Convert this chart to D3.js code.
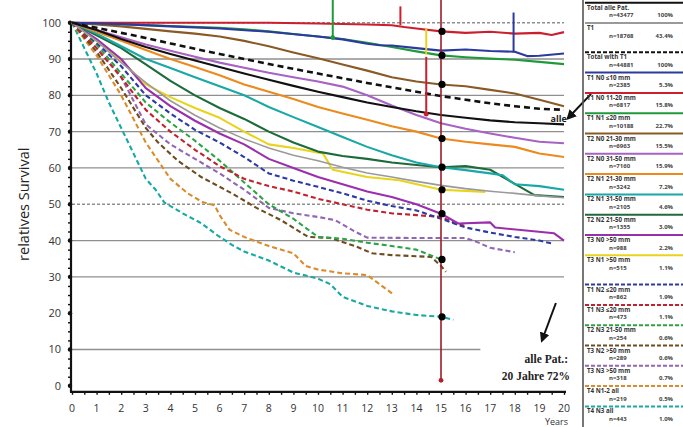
<!DOCTYPE html>
<html>
<head>
<meta charset="utf-8">
<script src="https://cdn.jsdelivr.net/npm/d3@7"></script>
<style>
  html, body { margin: 0; padding: 0; background: #fff; }
  svg { display: block; font-family: "Open Sans", "DejaVu Sans", sans-serif; }
</style>
</head>
<body>
<svg id="chart" width="683" height="427"></svg>
<script>
// relative survival curves, [year, %]
const alle = [[0,100],[1,98],[2,95.5],[3,93.3],[4,91.4],[5,89.6],[6,87.8],[7,86],[8,84.3],[9,82.6],[10,81],[11,79.5],[12,78],[13,76.8],[14,75.6],[15,74.6],[16,73.8],[17,73.1],[18,72.6],[19,72.3],[20,72]];
const t1 = [[0,100],[1,95],[2,89],[3,83.5],[4,78.5],[5,74.5],[6,71],[7,68],[8,65.5],[9,63.5],[10,62],[11,60.2],[12,58.6],[13,57.5],[14,56.3],[15,55.2],[16,54.3],[17,53.6],[18,53],[19,52.3],[20,51.8]];
const totalT1 = [[0,100],[1,98.6],[2,97.2],[3,95.8],[4,94.3],[5,92.8],[6,91.4],[7,90],[8,88.6],[9,87.3],[10,86],[11,84.7],[12,83.4],[13,82.2],[14,81],[15,79.8],[16,78.8],[17,77.8],[18,77],[19,76.3],[20,76]];
const blueSolid = [[0,100],[2,99.6],[4,99],[6,98.4],[8,97.5],[10,96.2],[11,95.4],[12,94.2],[12.5,93.8],[13,93.7],[14,93],[15,92.3],[16,92.6],[17,92.2],[18,92],[18.5,90.8],[19,90.9],[20,91.5]];
const redSolid = [[0,100],[4,100],[8,100],[10,99.8],[12,99.5],[13,99.3],[13.5,98.8],[14,98.4],[15,97.6],[16,97.2],[17,97.5],[18,97],[19,97.2],[19.5,96.6],[20,97.4]];
const greenSolid = [[0,100],[2,99.6],[4,99.1],[6,98.6],[7,98.2],[8,97.6],[9,96.9],[10,96.2],[11,95.5],[12,94.5],[13,93.3],[14,92.1],[15,91],[16,90.5],[17,90.1],[18,89.8],[19,89.2],[20,88.6]];
const brownSolid = [[0,100],[1,99.5],[2,99],[3,98.3],[4,97.6],[5,97],[6,96.2],[7,95],[8,93.5],[9,91.8],[10,90.2],[11,88.5],[12,86.8],[13,85],[14,83.8],[15,83],[16,82.5],[17,81.5],[18,80.5],[19,78.8],[20,77]];
const purpleUpper = [[0,100],[1,98],[2,96],[3,94],[4,92.3],[5,90.6],[6,89],[7,87.6],[8,86.2],[9,85],[10,83.8],[11,82.4],[12,80],[13,77.2],[14,74.6],[15,72.3],[16,70.8],[17,69.5],[18,68.3],[19,67.2],[20,66.8]];
const orangeSolid = [[0,100],[1,97.5],[2,95],[3,92.5],[4,90],[5,87.8],[6,85.5],[7,83],[8,81],[9,79],[10,76.8],[11,75],[12,73.3],[13,71.5],[14,70],[15,68.1],[16,67.2],[17,66.5],[18,65.8],[19,64],[20,63]];
const tealSolid = [[0,100],[1,97],[2,93.5],[3,90],[4,87.5],[5,85],[6,82.5],[7,80],[8,76.8],[9,74],[10,71.3],[11,68.5],[12,65.8],[13,63.5],[14,61.5],[15,60.2],[16,59.4],[17,58.5],[17.5,58],[18,55.5],[19,55],[20,54]];
const darkGreen = [[0,100],[1,96.5],[2,93],[3,88.5],[4,84],[5,80],[6,76.5],[7,73.5],[8,70],[9,67],[10,64.5],[11,63.3],[12,62.5],[13,61.5],[14,60.8],[15,60.2],[16,60.5],[17,59.5],[18,55.6],[18.8,52.5],[20,52]];
const purpleLower = [[0,100],[1,95.5],[2,90],[3,82],[4,77],[5,73],[6,69.5],[7,66.5],[8,62.5],[9,60],[10,57.5],[11,55.5],[12,53.5],[13,52],[14,50],[15,47.4],[15.7,44.7],[17,45],[17.2,43.6],[19.6,42],[20,40]];
const yellowSolid = [[0,100],[1,95],[2,89.5],[3,83],[4,79.5],[5,76.5],[6,73.8],[7,70],[8,66.5],[9,65.5],[10.2,64],[10.6,59.5],[12,57.5],[13.3,56.6],[15,54],[16.8,53.4]];
const blueDashed = [[0,100],[1,94.5],[2,88],[3,80],[4,75],[5,70.5],[6,67],[7,63],[8,58.5],[9,56.5],[10,54.8],[11,53],[12,51],[13,49.5],[14,48.3],[15,46],[16,43.6],[17,42.2],[18,41],[19,40],[19.5,39.2]];
const redDashed = [[0,100],[1,93],[2,85],[3,76],[4,70],[5,65],[6,60.5],[7,57],[8,55],[9,53.5],[10,51.5],[11,50],[12,48.5],[13,47.5],[14,47],[15,46.5],[15.5,45],[16,44]];
const greenDashed = [[0,100],[1,94],[2,86],[3,78],[4,72.5],[5,67.5],[6,62],[7,56],[8,50],[9,46],[10,41],[11,40.5],[12,39.4],[13,38.5],[14,37.5],[15,34.8]];
const brownDashed = [[0,100],[1,92],[2,82],[3,71],[3.5,67],[4.3,62],[5.25,57.5],[6.5,53],[7.5,49],[8.5,45.6],[9.6,41],[10.5,40.7],[11.5,38.5],[12.2,36.5],[13,36],[14.6,35.5],[15,33],[15.2,31.4]];
const purpleDashed = [[0,100],[1,93],[2,85],[3,72],[4,66.5],[5,62.5],[6,58.5],[7,54],[8,49],[9,47.5],[10,46.5],[10.7,45.6],[11.5,42.5],[12,40.8],[14,40.7],[16,40.7],[16.5,39.5],[17,38],[18,36.8]];
const orangeDashed = [[0,100],[1,91],[2,80],[3,67],[3.5,62],[4,57],[4.7,53],[5.3,50.6],[5.8,49.7],[6,47],[6.4,43],[7,41],[8,38.5],[9,36.5],[9.5,33],[10,32],[11,31],[12,30.5],[12.5,28],[13.1,25]];
const tealDashed = [[0,100],[0.5,93],[1,86],[1.5,78],[2,71],[2.5,64],[3,57],[3.4,54],[3.75,50.5],[4.5,47.5],[5.25,44.8],[5.9,41.5],[6.5,38.8],[7,37],[8,34.5],[9,31.2],[10,29.5],[10.5,28],[11,24.5],[12,22],[13,20.5],[14,19.5],[15,19],[15.5,18.2]];

// legend entries (same order as the curves below)
const legendLabels = ["Total alle Pat.","T1","Total with T1","T1 N0 \u226410 mm","T1 N0 11-20 mm","T1 N1 \u226420 mm","T2 N0 21-30 mm","T2 N0 31-50 mm","T2 N1 21-30 mm","T2 N1 31-50 mm","T2 N2 21-50 mm","T3 N0 >50 mm","T3 N1 >50 mm","T1 N2 \u226420 mm","T1 N3 \u226420 mm","T2 N3 21-50 mm","T3 N2 >50 mm","T3 N3 >50 mm","T4 N1-2 all","T4 N3 all"];
const legendN = ["n=43477","n=18768","n=44881","n=2385","n=6817","n=10188","n=6963","n=7160","n=3242","n=2105","n=1355","n=988","n=515","n=862","n=473","n=254","n=289","n=318","n=219","n=443"];
const legendPct = ["100%","43.4%","100%","5.3%","15.8%","22.7%","15.5%","15.9%","7.2%","4.6%","3.0%","2.2%","1.1%","1.9%","1.1%","0.6%","0.6%","0.7%","0.5%","1.0%"];

const curves = [alle, t1, totalT1, blueSolid, redSolid, greenSolid, brownSolid, purpleUpper, orangeSolid, tealSolid, darkGreen, purpleLower, yellowSolid, blueDashed, redDashed, greenDashed, brownDashed, purpleDashed, orangeDashed, tealDashed];
const colors = ["#111","#9a9a9a","#111","#2b3a9e","#cc1f2e","#1f9a3a","#8a5a26","#a862c4","#ec8a1e","#18a8a6","#1d6a3a","#9a2fae","#e8d41c","#2b3aa6","#c1222e","#2aa444","#6e4c20","#9266b4","#da8c2c","#18a9a2"];
const dashedFrom = 13; // entries 13.. are dashed, 2 is dashed too

const xTicks = d3.range(0, 21);
const yTicks = d3.range(0, 101, 10);
const gridSolid = [90, 80, 70, 60, 40, 30];
const gridDotted = [100, 50];
const gridShort = [10];

// year-15 markers sit on these curves
const dotCurves = [redSolid, greenSolid, brownSolid, orangeSolid, darkGreen, yellowSolid, purpleLower, greenDashed, tealDashed];
const markYear = 15;

// pointer marks on the upper curves: [year, from %, to %]
const pointers = [
  {year: 10.6, from: 106.5, to: 95.9, color: "#1f9a3a", dot: true},
  {year: 13.35, from: 104.5, to: 99.3, color: "#cc1f2e", dot: false},
  {year: 17.95, from: 102.8, to: 91.8, color: "#2b3a9e", dot: false},
  {year: 14.4, from: 98.3, to: 91.2, color: "#e8d41c", dot: false},
  {year: 14.4, from: 90.6, to: 74.8, color: "#cc1f2e", dot: true}
];

const svg = d3.select("#chart");
const x = d3.scaleLinear().domain([0, 20]).range([72, 564]);
const y = d3.scaleLinear().domain([0, 100]).range([385.8, 22.7]);

// grid
svg.append("g").selectAll("line").data(gridSolid).join("line")
  .attr("x1", x(0)).attr("x2", x(20))
  .attr("y1", d => y(d)).attr("y2", d => y(d))
  .attr("stroke", "#8f8f8f").attr("stroke-width", 1.3);
svg.append("g").selectAll("line").data(gridDotted).join("line")
  .attr("x1", x(0)).attr("x2", x(20))
  .attr("y1", d => y(d)).attr("y2", d => y(d))
  .attr("stroke", "#8f8f8f").attr("stroke-width", 1.6)
  .attr("stroke-dasharray", "3,2");
svg.append("g").selectAll("line").data(gridShort).join("line")
  .attr("x1", x(0)).attr("x2", x(16.6))
  .attr("y1", d => y(d)).attr("y2", d => y(d))
  .attr("stroke", "#8f8f8f").attr("stroke-width", 1.3);

// axes
const yAxis = svg.append("g").attr("transform", `translate(${x(0) - 1},0)`);
yAxis.call(d3.axisLeft(y).tickValues(d3.range(0, 101, 2.5)).tickSize(3).tickFormat(""));
yAxis.call(g => g.select(".domain").remove());
yAxis.selectAll(".tick line").attr("stroke", "#111").attr("stroke-width", 1.4);
svg.append("line").attr("x1", x(0) - 1).attr("x2", x(0) - 1)
  .attr("y1", y(100)).attr("y2", y(0) + 6).attr("stroke", "#111").attr("stroke-width", 2.2);
svg.append("g").selectAll("circle").data(yTicks).join("circle")
  .attr("cx", x(0) - 2).attr("cy", d => y(d)).attr("r", 2.2).attr("fill", "#111");
svg.append("g").selectAll("text").data(yTicks).join("text")
  .attr("x", 61).attr("y", d => y(d) + 4)
  .attr("text-anchor", "end").attr("font-size", 11).attr("fill", "#333")
  .text(d => d);

const axisY = y(0) + 6;
const xAxis = svg.append("g").attr("transform", `translate(0,${axisY})`);
xAxis.call(d3.axisBottom(x).tickValues(d3.range(0, 20.01, 0.5)).tickSize(3).tickFormat(""));
xAxis.call(g => g.select(".domain").remove());
xAxis.selectAll(".tick line").attr("stroke", "#111").attr("stroke-width", 1.4);
svg.append("line").attr("x1", x(0) - 2).attr("x2", x(20) + 2)
  .attr("y1", axisY).attr("y2", axisY).attr("stroke", "#111").attr("stroke-width", 2.2);
svg.append("g").selectAll("text").data(xTicks).join("text")
  .attr("x", d => x(d)).attr("y", axisY + 20.5)
  .attr("text-anchor", "middle").attr("font-size", 10.5).attr("fill", "#333")
  .text(d => d);
svg.append("text").attr("x", 545).attr("y", 425).attr("font-size", 9).attr("fill", "#333").text("Years");

svg.append("text")
  .attr("transform", `translate(29,${y(50)}) rotate(-90)`)
  .attr("text-anchor", "middle").attr("font-size", 14.5).attr("fill", "#222")
  .text("relatives Survival");

// curves
const line = d3.line().x(d => x(d[0])).y(d => y(d[1]));
const order = d3.range(curves.length).reverse();
svg.append("g").selectAll("path").data(order).join("path")
  .attr("d", i => line(curves[i]))
  .attr("fill", "none")
  .attr("stroke", i => colors[i])
  .attr("stroke-width", i => i === 1 ? 1.6 : (i === 2 ? 2.6 : 2.1))
  .attr("stroke-dasharray", i => i === 2 ? "6,4" : (i >= dashedFrom ? "5,3" : null))
  .attr("stroke-linejoin", "round");

// vertical 15-year line
svg.append("line").attr("x1", x(markYear)).attr("x2", x(markYear))
  .attr("y1", 0).attr("y2", y(1.5)).attr("stroke", "#9b1c28").attr("stroke-width", 1.6);
svg.append("circle").attr("cx", x(markYear)).attr("cy", y(1.5)).attr("r", 2.4).attr("fill", "#b3202c");

function valueAt(c, t) {
  const i = d3.bisector(d => d[0]).left(c, t);
  if (i <= 0) return c[0][1];
  if (i >= c.length) return c[c.length - 1][1];
  const a = c[i - 1], b = c[i];
  return a[1] + (b[1] - a[1]) * (t - a[0]) / (b[0] - a[0]);
}
svg.append("g").selectAll("circle").data(dotCurves).join("circle")
  .attr("cx", x(markYear) + 1).attr("cy", c => y(valueAt(c, markYear)))
  .attr("r", 3.6).attr("fill", "#000");

// pointers
svg.append("g").selectAll("line").data(pointers).join("line")
  .attr("x1", d => x(d.year)).attr("x2", d => x(d.year))
  .attr("y1", d => y(d.from)).attr("y2", d => y(d.to))
  .attr("stroke", d => d.color).attr("stroke-width", 2);
svg.append("g").selectAll("circle").data(pointers.filter(d => d.dot)).join("circle")
  .attr("cx", d => x(d.year)).attr("cy", d => y(d.to)).attr("r", 2.4).attr("fill", d => d.color);

// annotations
const defs = svg.append("defs");
defs.append("marker").attr("id", "arr").attr("viewBox", "0 0 10 10")
  .attr("refX", 8).attr("refY", 5).attr("markerWidth", 5).attr("markerHeight", 5)
  .attr("orient", "auto")
  .append("path").attr("d", "M0,0L10,5L0,10z").attr("fill", "#111");
svg.append("line")
  .attr("x1", x(21.1)).attr("y1", y(80.4)).attr("x2", x(20.15)).attr("y2", y(73.6))
  .attr("stroke", "#111").attr("stroke-width", 2).attr("marker-end", "url(#arr)");
svg.append("text").attr("x", x(19.45)).attr("y", y(72.6)).attr("font-size", 9)
  .attr("font-weight", "bold").attr("fill", "#222").text("alle");
svg.append("line")
  .attr("x1", x(19.67)).attr("y1", y(22.8)).attr("x2", x(19.1)).attr("y2", y(12.4))
  .attr("stroke", "#111").attr("stroke-width", 2).attr("marker-end", "url(#arr)");
svg.append("text").attr("x", 568).attr("y", 363).attr("text-anchor", "end")
  .attr("font-family", "Liberation Serif, serif").attr("font-weight", "bold")
  .attr("font-size", 11.5).attr("fill", "#222").text("alle Pat.:");
svg.append("text").attr("x", 570).attr("y", 380).attr("text-anchor", "end")
  .attr("font-family", "Liberation Serif, serif").attr("font-weight", "bold")
  .attr("font-size", 11.5).attr("fill", "#222").text("20 Jahre 72%");

// legend
const lg = svg.append("g");
lg.append("line").attr("x1", 583).attr("x2", 583).attr("y1", 0).attr("y2", 427)
  .attr("stroke", "#555").attr("stroke-width", 1.6);
const group = i => (i < 2 ? 0 : (i < dashedFrom ? 1 : 2));
const ly = i => 2.7 + i * 20.3 + group(i) * 9;
const items = lg.selectAll("g.item").data(d3.range(legendLabels.length)).join("g")
  .attr("class", "item").attr("transform", i => `translate(0,${ly(i)})`);
items.append("line").attr("x1", 585).attr("x2", 683).attr("y1", 0).attr("y2", 0)
  .attr("stroke", i => colors[i]).attr("stroke-width", 2)
  .attr("stroke-dasharray", i => i === 2 ? "4,2" : (i >= dashedFrom ? "4,2" : null));
items.append("text").attr("x", 587).attr("y", 7).attr("font-size", 6.2)
  .attr("font-weight", "bold").attr("fill", "#333").text(i => legendLabels[i]);
items.append("text").attr("x", 609).attr("y", 14.5).attr("font-size", 6)
  .attr("font-weight", "bold").attr("fill", "#444").text(i => legendN[i]);
items.append("text").attr("x", 673).attr("y", 14.5).attr("font-size", 6)
  .attr("text-anchor", "end").attr("font-weight", "bold").attr("fill", "#444").text(i => legendPct[i]);
</script>
</body>
</html>
